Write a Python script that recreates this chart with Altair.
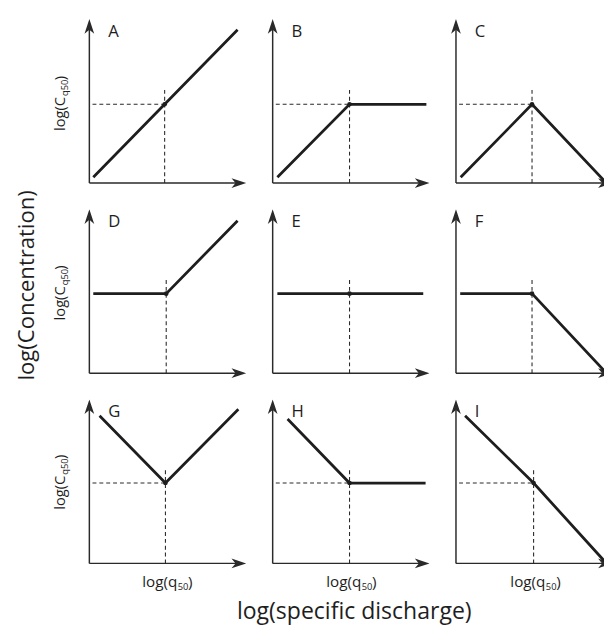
import altair as alt
import pandas as pd

FONT = "Open Sans"
INK = "#1e1e1e"

# ---- panel layout (letters) ----
GRID = [["A", "B", "C"], ["D", "E", "F"], ["G", "H", "I"]]

# ---- solid curve of each panel: log(q) values and log(C) values ----
LINE_X = {
    "A": [0.25, 4.8, 9.45],
    "B": [0.3, 4.9, 9.8],
    "C": [0.3, 4.85, 9.6],
    "D": [0.25, 4.9, 9.45],
    "E": [0.3, 4.9, 9.6],
    "F": [0.27, 4.85, 9.6],
    "G": [0.65, 4.85, 9.5],
    "H": [0.95, 4.9, 9.75],
    "I": [0.58, 4.95, 9.6],
}
LINE_Y = {
    "A": [0.35, 4.8, 9.35],
    "B": [0.35, 4.8, 4.8],
    "C": [0.35, 4.8, 0.0],
    "D": [4.85, 4.85, 9.3],
    "E": [4.85, 4.85, 4.85],
    "F": [4.85, 4.85, 0.0],
    "G": [9.0, 4.9, 9.4],
    "H": [8.8, 4.9, 4.9],
    "I": [9.0, 4.9, 0.0],
}
# reference point log(q50), log(C_q50)
Q50 = {"A": 4.8, "B": 4.9, "C": 4.85, "D": 4.9, "E": 4.9, "F": 4.85,
       "G": 4.85, "H": 4.9, "I": 4.95}
C50 = {"A": 4.8, "B": 4.8, "C": 4.8, "D": 4.85, "E": 4.85, "F": 4.85,
       "G": 4.9, "H": 4.9, "I": 4.9}
H_DASH = {"A": True, "B": True, "C": True, "D": False, "E": False, "F": False,
          "G": True, "H": True, "I": True}

X_MIN, X_TIP, Y_MIN, Y_TIP = -0.5, 10.0, -0.4, 10.0
X_RIGHT_MAX = 9.44
AXIS_END = 9.5
V_DASH_TOP = 5.75
H_DASH_START = 0.2
LETTER_POS = (1.2, 9.2)

RIGHT_ARROW = "M0,0 L-2,-0.66 L-1.45,0 L-2,0.66 Z"
UP_ARROW = "M0,0 L-0.66,2 L0,1.45 L0.66,2 Z"


def panel(name, row, col):
    xmax = X_RIGHT_MAX if col == 2 else X_TIP
    width = 159 if col == 2 else 168
    xs = alt.Scale(domain=[X_MIN, xmax], nice=False, zero=False)
    ys = alt.Scale(domain=[Y_MIN, Y_TIP], nice=False, zero=False)
    X = lambda f: alt.X(f, type="quantitative", scale=xs, axis=None)
    Y = lambda f: alt.Y(f, type="quantitative", scale=ys, axis=None)

    axes_df = pd.DataFrame({"x": [0, 0], "x2": [AXIS_END, 0],
                            "y": [0, 0], "y2": [0, AXIS_END]})
    axes = alt.Chart(axes_df).mark_rule(color="#2a2a2a", strokeWidth=1.5, clip=True).encode(
        x=X("x"), x2="x2", y=Y("y"), y2="y2")

    arr_r = alt.Chart(pd.DataFrame({"x": [X_TIP], "y": [0]})).mark_point(
        shape=RIGHT_ARROW, size=225, filled=True, color="#2a2a2a", opacity=1,
        strokeWidth=0, clip=True).encode(x=X("x"), y=Y("y"))
    arr_u = alt.Chart(pd.DataFrame({"x": [0], "y": [Y_TIP]})).mark_point(
        shape=UP_ARROW, size=225, filled=True, color="#2a2a2a", opacity=1,
        strokeWidth=0, clip=True).encode(x=X("x"), y=Y("y"))

    vdash = alt.Chart(pd.DataFrame({"x": [Q50[name]], "y": [0], "y2": [V_DASH_TOP]})).mark_rule(
        color="#2a2a2a", strokeWidth=1.1, strokeDash=[4, 3], clip=True).encode(
        x=X("x"), y=Y("y"), y2="y2")
    layers = [axes, arr_r, arr_u, vdash]
    if H_DASH[name]:
        hdash = alt.Chart(pd.DataFrame({"x": [H_DASH_START], "x2": [Q50[name]], "y": [C50[name]]})).mark_rule(
            color="#2a2a2a", strokeWidth=1.1, strokeDash=[4, 3], clip=True).encode(
            x=X("x"), x2="x2", y=Y("y"))
        layers.append(hdash)

    line_df = pd.DataFrame({"x": LINE_X[name], "y": LINE_Y[name],
                            "o": list(range(len(LINE_X[name])))})
    line = alt.Chart(line_df).mark_line(color=INK, strokeWidth=2.8, clip=True,
                                        strokeJoin="miter").encode(
        x=X("x"), y=Y("y"), order="o:Q")
    dot = alt.Chart(pd.DataFrame({"x": [Q50[name]], "y": [C50[name]]})).mark_point(
        filled=True, size=22, color=INK, opacity=1, clip=True).encode(x=X("x"), y=Y("y"))
    letter = alt.Chart(pd.DataFrame({"x": [LETTER_POS[0]], "y": [LETTER_POS[1]], "t": [name]})).mark_text(
        align="left", baseline="middle", font=FONT, fontSize=17, color=INK).encode(
        x=X("x"), y=Y("y"), text="t:N")
    layers += [line, dot, letter]

    if col == 0:  # y-axis title log(C_q50), rotated
        tdf = pd.DataFrame({"y": [C50[name] + 0.45]})
        base = alt.Chart(tdf)
        layers += [
            base.mark_text(text="log(C", angle=270, align="right", baseline="middle",
                           font=FONT, fontSize=15, color=INK).encode(x=alt.value(-22), y=Y("y")),
            base.mark_text(text="q50", angle=270, align="left", baseline="middle",
                           font=FONT, fontSize=9.5, color=INK, dx=1, dy=5).encode(x=alt.value(-22), y=Y("y")),
            base.mark_text(text=")", angle=270, align="left", baseline="middle",
                           font=FONT, fontSize=15, color=INK, dx=17).encode(x=alt.value(-22), y=Y("y")),
        ]
    if row == 2:  # x-axis title log(q50)
        tdf = pd.DataFrame({"x": [Q50[name] + 0.75]})
        base = alt.Chart(tdf)
        layers += [
            base.mark_text(text="log(q", align="right", baseline="middle",
                           font=FONT, fontSize=15.5, color=INK).encode(x=X("x"), y=alt.value(186)),
            base.mark_text(text="50", align="left", baseline="middle",
                           font=FONT, fontSize=9.5, color=INK, dx=0.5, dy=5).encode(x=X("x"), y=alt.value(186)),
            base.mark_text(text=")", align="left", baseline="middle",
                           font=FONT, fontSize=15.5, color=INK, dx=11).encode(x=X("x"), y=alt.value(186)),
        ]
    return alt.layer(*layers).properties(width=width, height=174)


rows = []
for r, names in enumerate(GRID):
    rows.append(alt.hconcat(*[panel(n, r, c) for c, n in enumerate(names)], spacing=19))

inner = alt.vconcat(*rows, spacing=20).properties(
    title=alt.TitleParams(text="log(Concentration)", orient="left", anchor="middle",
                          font=FONT, fontSize=22.5, fontWeight="normal", color=INK,
                          offset=15, dx=20))

chart = alt.vconcat(inner).properties(
    title=alt.TitleParams(text="log(specific discharge)", orient="bottom", anchor="middle",
                          font=FONT, fontSize=23.5, fontWeight="normal", color=INK,
                          offset=10, dx=45),
    padding={"left": 8, "top": 5, "right": 0, "bottom": 0},
).configure_view(stroke=None)

chart.save("out.html", embed_options={"renderer": "svg", "actions": False})
